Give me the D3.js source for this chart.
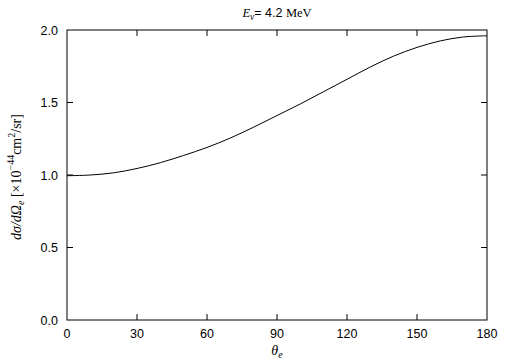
<!DOCTYPE html>
<html><head><meta charset="utf-8">
<script src="https://cdn.jsdelivr.net/npm/d3@7"></script>
<style>
body{margin:0;background:#fff;}
svg{display:block;}
</style></head>
<body>
<script>
const theta = [0,10,20,30,40,50,60,70,80,90,100,110,120,130,140,150,160,170,180];
const sigma = [0.995,1.0,1.015,1.045,1.085,1.135,1.19,1.255,1.33,1.41,1.49,1.575,1.66,1.745,1.82,1.88,1.925,1.952,1.96];
const xTicks = [0,30,60,90,120,150,180];
const yTicks = [0,0.5,1.0,1.5,2.0];

const W=505,H=361;
const m={l:67,r:487,t:30,b:320};
const svg=d3.select("body").append("svg").attr("width",W).attr("height",H);
const x=d3.scaleLinear().domain([0,180]).range([m.l,m.r]);
const y=d3.scaleLinear().domain([0,2]).range([m.b,m.t]);
const font="'Liberation Sans', Arial, sans-serif";
const serif="'Liberation Serif', 'Times New Roman', serif";

// frame
svg.append("rect").attr("x",m.l).attr("y",m.t).attr("width",m.r-m.l).attr("height",m.b-m.t)
  .attr("fill","none").attr("stroke","#000").attr("stroke-width",1);

const tl=6;
const ax=svg.append("g");
xTicks.forEach(t=>{
  if(t>0&&t<180){
    ax.append("line").attr("x1",x(t)).attr("x2",x(t)).attr("y1",m.b).attr("y2",m.b-tl).attr("stroke","#000");
    ax.append("line").attr("x1",x(t)).attr("x2",x(t)).attr("y1",m.t).attr("y2",m.t+tl).attr("stroke","#000");
  }
  ax.append("text").attr("x",x(t)).attr("y",m.b+18).attr("text-anchor","middle")
    .attr("font-family",font).attr("font-size",12.5).text(t);
});
yTicks.forEach(t=>{
  if(t>0&&t<2){
    ax.append("line").attr("x1",m.l).attr("x2",m.l+tl).attr("y1",y(t)).attr("y2",y(t)).attr("stroke","#000");
    ax.append("line").attr("x1",m.r).attr("x2",m.r-tl).attr("y1",y(t)).attr("y2",y(t)).attr("stroke","#000");
  }
  ax.append("text").attr("x",m.l-9).attr("y",y(t)+4.5).attr("text-anchor","end")
    .attr("font-family",font).attr("font-size",12.5).text(d3.format(".1f")(t));
});

// curve
svg.append("path").datum(theta.map((t,i)=>[t,sigma[i]]))
  .attr("fill","none").attr("stroke","#000").attr("stroke-width",1)
  .attr("d",d3.line().x(d=>x(d[0])).y(d=>y(d[1])).curve(d3.curveCatmullRom));

// title
const tt=svg.append("text").attr("x",277).attr("y",17).attr("text-anchor","middle").attr("font-size",12.5);
tt.append("tspan").attr("font-family",serif).attr("font-style","italic").text("E");
tt.append("tspan").attr("font-family",serif).attr("font-style","italic").attr("font-size",9.5).attr("dy",3).text("ν");
tt.append("tspan").attr("font-family",font).attr("dy",-3).text("= 4.2 ");
tt.append("tspan").attr("font-family",serif).text("MeV");

// x label
const xl=svg.append("text").attr("x",277).attr("y",355).attr("text-anchor","middle").attr("font-family",serif).attr("font-size",14);
xl.append("tspan").attr("font-style","italic").text("θ");
xl.append("tspan").attr("font-style","italic").attr("font-size",10).attr("dy",3).text("e");

// y label
const yl=svg.append("text").attr("transform","translate(21,177) rotate(-90)").attr("text-anchor","middle")
  .attr("font-family",serif).attr("font-size",14);
yl.append("tspan").attr("font-style","italic").text("dσ/dΩ");
yl.append("tspan").attr("font-style","italic").attr("font-size",10).attr("dy",3).text("e");
yl.append("tspan").attr("dy",-3).text(" [×10");
yl.append("tspan").attr("font-size",10).attr("dy",-7).text("−44");
yl.append("tspan").attr("dy",7).text("cm");
yl.append("tspan").attr("font-size",10).attr("dy",-6).text("2");
yl.append("tspan").attr("dy",6).text("/sr]");
</script>
</body></html>
